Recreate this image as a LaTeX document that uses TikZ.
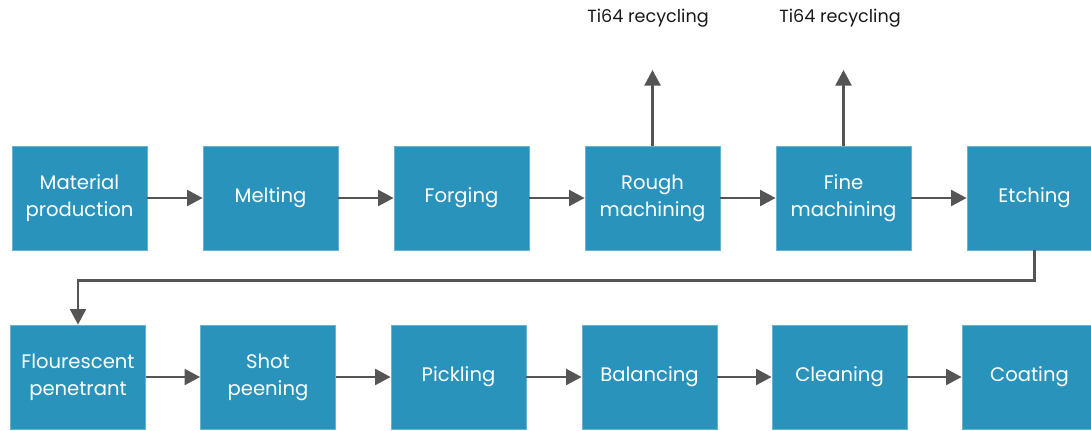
\documentclass[tikz,border=0pt]{standalone}
\usepackage{fontspec}
\setmainfont{Poppins}
\usetikzlibrary{arrows.meta,positioning}
\definecolor{stepblue}{HTML}{2A93BC}
\definecolor{flowgray}{HTML}{555555}
\tikzset{
  stepbox/.style={rectangle, fill=stepblue, draw=stepblue!70!white, line width=0.4pt,
    minimum width=67.5pt, minimum height=52pt, inner sep=2pt,
    text=white, font=\fontsize{9.8}{13.5}\selectfont, align=center},
  flow/.style={-{Triangle[length=7.8pt,width=8pt]}, line width=1.2pt, draw=flowgray},
  lbl/.style={font=\fontsize{8.8}{10}\selectfont, text=black!90},
}
\begin{document}
\begin{tikzpicture}[x=0.5pt,y=-0.5pt]
  \useasboundingbox (0,0) rectangle (1091,430);
  \clip (0,0) rectangle (1091,430);
  % --- top row ---
  \node[stepbox] (mat) at (79.5,198) {Material\\production};
  \node[stepbox] (melt) at (270.5,198) {Melting};
  \node[stepbox] (forg) at (461.5,198) {Forging};
  \node[stepbox] (rough) at (652.5,198) {Rough\\machining};
  \node[stepbox] (fine) at (843.5,198) {Fine\\machining};
  \node[stepbox] (etch) at (1034.5,198) {Etching};
  % --- bottom row ---
  \node[stepbox] (flour) at (78,377) {Flourescent\\penetrant};
  \node[stepbox] (shot) at (268,377) {Shot\\peening};
  \node[stepbox] (pick) at (458.5,377) {Pickling};
  \node[stepbox] (bal) at (649.5,377) {Balancing};
  \node[stepbox] (clean) at (839.5,377) {Cleaning};
  \node[stepbox] (coat) at (1029.5,377) {Coating};
  % recycling outputs
  \coordinate (rec1) at (652.5,70);
  \coordinate (rec2) at (843.5,70);
  \node[lbl] (ti1) at (648,18) {Ti64 recycling};
  \node[lbl] (ti2) at (840,18) {Ti64 recycling};
  % --- flow arrows ---
  \draw[flow] (mat) -- (melt);
  \draw[flow] (melt) -- (forg);
  \draw[flow] (forg) -- (rough);
  \draw[flow] (rough) -- (fine);
  \draw[flow] (fine) -- (etch);
  \draw[flow] (rough.north) -- (rec1);
  \draw[flow] (fine.north) -- (rec2);
  \draw[flow] (etch.south) -- ++(0,30) -| (flour.north);
  \draw[flow] (flour) -- (shot);
  \draw[flow] (shot) -- (pick);
  \draw[flow] (pick) -- (bal);
  \draw[flow] (bal) -- (clean);
  \draw[flow] (clean) -- (coat);
\end{tikzpicture}
\end{document}
